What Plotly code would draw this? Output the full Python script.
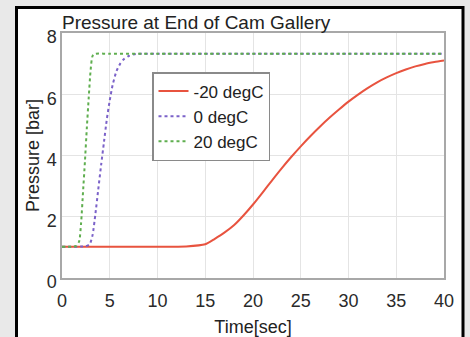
import plotly.graph_objects as go

# ---- data ----
t_m20 = [0, 5, 10, 13, 15, 16, 17, 18, 19, 20, 21, 22, 23, 24, 25, 26, 27, 28, 29, 30,
         31, 32, 33, 34, 35, 36, 37, 38, 39, 40]
p_m20 = [1.02, 1.02, 1.02, 1.03, 1.1, 1.28, 1.48, 1.72, 2.04, 2.4, 2.79, 3.19, 3.58, 3.95,
         4.3, 4.63, 4.94, 5.23, 5.5, 5.76, 5.99, 6.2, 6.39, 6.55, 6.69, 6.81, 6.91, 6.99,
         7.05, 7.1]

t_0 = [0, 2.5, 2.9, 3.2, 3.5, 3.8, 4.1, 4.4, 4.7, 5.0, 5.3, 5.7, 6.1, 6.5, 7.0, 7.5,
       8, 10, 20, 30, 40]
p_0 = [1.02, 1.04, 1.1, 1.4, 2.1, 2.9, 3.7, 4.45, 5.2, 5.8, 6.3, 6.75, 7.0, 7.15, 7.25,
       7.3, 7.32, 7.32, 7.32, 7.32, 7.32]

t_20 = [0, 1.0, 1.5, 1.8, 2.0, 2.2, 2.4, 2.6, 2.8, 3.0, 3.2, 3.5, 5, 10, 20, 30, 40]
p_20 = [1.02, 1.02, 1.05, 1.2, 1.8, 2.8, 3.8, 4.9, 5.9, 6.8, 7.25, 7.32, 7.32, 7.32,
        7.32, 7.32, 7.32]

names = ["-20 degC", "0 degC", "20 degC"]
x_ticks = [0, 5, 10, 15, 20, 25, 30, 35, 40]
y_ticks = [0, 2, 4, 6, 8]

FONT = "Arial, Liberation Sans, sans-serif"

fig = go.Figure()
fig.add_trace(go.Scatter(x=t_m20, y=p_m20, mode="lines", name=names[0],
                         line=dict(color="#e8533f", width=2, shape="spline", smoothing=0.6)))
fig.add_trace(go.Scatter(x=t_0, y=p_0, mode="lines", name=names[1],
                         line=dict(color="#7b62c9", width=2, dash="dot", shape="spline", smoothing=0.6)))
fig.add_trace(go.Scatter(x=t_20, y=p_20, mode="lines", name=names[2],
                         line=dict(color="#5fae4f", width=2, dash="dot", shape="spline", smoothing=0.6)))

W, H = 470, 337
L, R, T, B = 62, 26, 33, 59
pw, ph = W - L - R, H - T - B


def px_to_paper_x(px):
    return (px - L) / pw


def px_to_paper_y(py):
    return (H - B - py) / ph


fig.update_layout(
    width=W, height=H,
    margin=dict(l=L, r=R, t=T, b=B, pad=0, autoexpand=False),
    paper_bgcolor="#e9e9e9",
    plot_bgcolor="#fbfcfe",
    font=dict(family=FONT, size=18, color="#2a2a2a"),
    showlegend=True,
    legend=dict(
        x=px_to_paper_x(152), y=px_to_paper_y(72), xanchor="left", yanchor="top",
        bgcolor="white", bordercolor="#8a8a8a", borderwidth=1.5,
        font=dict(family=FONT, size=17, color="#222"),
        tracegroupgap=0, itemwidth=30,
    ),
    title=dict(text="Pressure at End of Cam Gallery", x=px_to_paper_x(62), xanchor="left",
               xref="paper", y=1 - 22 / H, yanchor="middle", yref="container",
               font=dict(family=FONT, size=19, color="#222"), pad=dict(l=0, r=0, t=0, b=0)),
    shapes=[
        dict(type="rect", xref="paper", yref="paper",
             x0=px_to_paper_x(16.5), x1=px_to_paper_x(463),
             y0=px_to_paper_y(360), y1=px_to_paper_y(7.5),
             fillcolor="white", line=dict(color="black", width=3), layer="below"),
    ],
)

fig.update_xaxes(
    range=[0, 40], tickvals=x_ticks, ticktext=[str(v) for v in x_ticks],
    showgrid=True, gridcolor="#e4e4e4", gridwidth=1,
    showline=True, linecolor="#a8a8a8", linewidth=1.5, mirror=True,
    zeroline=False, ticks="", ticklabelstandoff=6, automargin=False,
    tickfont=dict(family=FONT, size=18, color="#2a2a2a"),
    title=dict(text="Time[sec]", font=dict(family=FONT, size=18, color="#222"), standoff=12),
)
fig.update_yaxes(
    range=[0, 8], tickvals=y_ticks, ticktext=[str(v) for v in y_ticks],
    showgrid=True, gridcolor="#e4e4e4", gridwidth=1,
    showline=True, linecolor="#a8a8a8", linewidth=1.5, mirror=True,
    zeroline=False, ticks="", ticklabelshift=4, automargin=False,
    tickfont=dict(family=FONT, size=18, color="#2a2a2a"),
    title=dict(text="Pressure [bar]", font=dict(family=FONT, size=18, color="#222"), standoff=2),
)

fig.write_html("out.html")
